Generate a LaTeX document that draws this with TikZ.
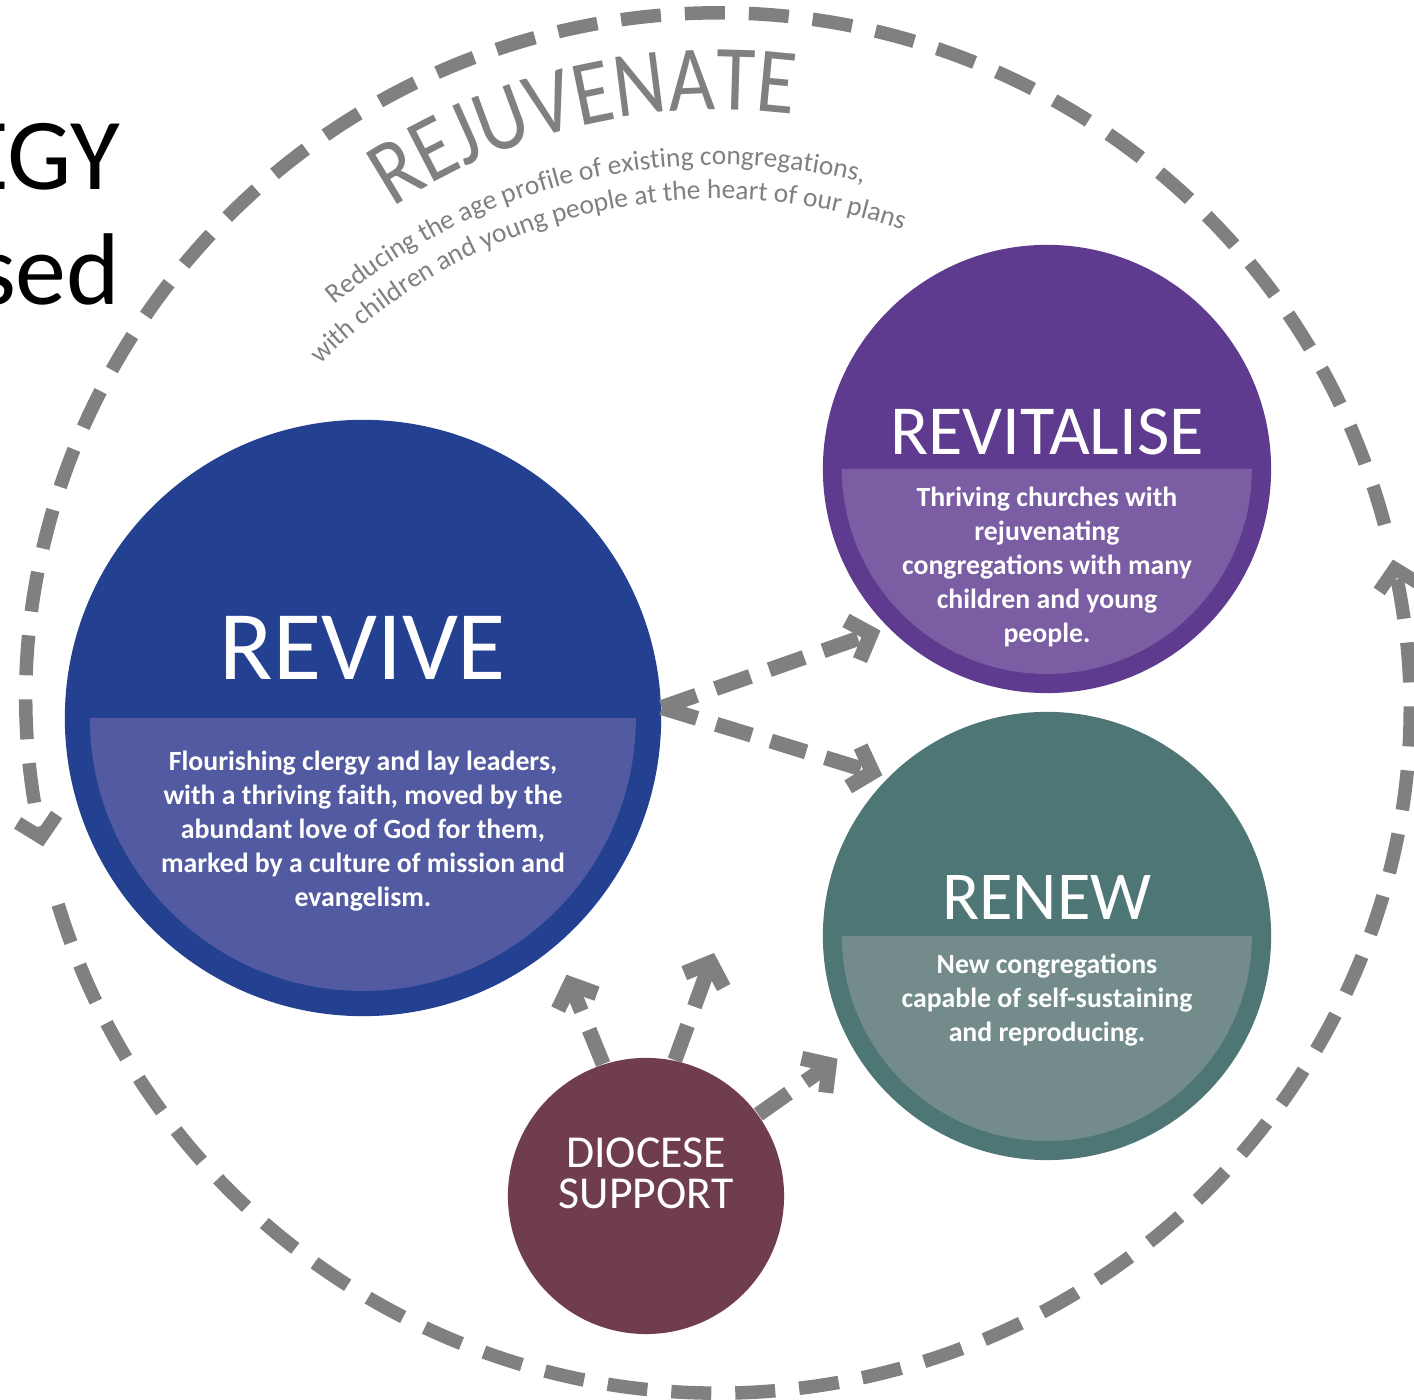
\documentclass[tikz,border=0pt]{standalone}
\usepackage{fontspec}
\setmainfont{Carlito}
\newfontfamily\narrowfont[FakeStretch=0.86]{Carlito}
\usepackage{tikz}
\usetikzlibrary{arrows.meta}
\usetikzlibrary{decorations.text}

\definecolor{dashgray}{RGB}{128,128,128}
\definecolor{revivedark}{RGB}{35,64,145}
\definecolor{revivelight}{RGB}{82,90,162}
\definecolor{vitaldark}{RGB}{94,59,143}
\definecolor{vitallight}{RGB}{122,93,163}
\definecolor{renewdark}{RGB}{78,118,116}
\definecolor{renewlight}{RGB}{115,140,139}
\definecolor{diocesered}{RGB}{112,60,80}

\tikzset{
  disc/.style={circle, inner sep=0pt, minimum size=#1},
  heading/.style={text=white, inner sep=0pt, anchor=base, font=\fontsize{#1}{#1}\selectfont},
  blurb/.style={text=white, inner sep=0pt, anchor=north, align=center, font=\bfseries\fontsize{7.9}{9.7}\selectfont},
  ring/.style={draw=dashgray, line width=0.135cm, dash pattern=on 0.4cm off 0.24cm,
    -{Straight Barb[length=0.19cm,width=0.4cm]}},
  flow/.style={draw=dashgray, line width=0.15cm, dash pattern=on 0.37cm off 0.2cm,
    -{Straight Barb[length=0.19cm,width=0.42cm]}},
  arctext/.style={decorate, decoration={text along path, text align=center, text color=dashgray, text={#1}}},
}

\begin{document}
\begin{tikzpicture}[x=0.01cm, y=0.01cm]
\useasboundingbox (0,0) rectangle (1414,1400);
\clip (0,0) rectangle (1414,1400);

% what is left of the slide title
\node[anchor=base east, inner sep=0pt, font=\fontsize{29}{29}\selectfont] (titleA) at (121,1210) {EGY};
\node[anchor=base east, inner sep=0pt, font=\fontsize{29}{29}\selectfont] (titleB) at (121,1095) {sed};

\coordinate (hub) at (718,697);
\coordinate (hubtext) at (718,640);

% outer cycle
\draw[ring] ([shift={(15:690)}]hub) arc[start angle=15, end angle=192, radius=690];
\draw[ring] ([shift={(197:690)}]hub) arc[start angle=197, end angle=372, radius=690];

% rejuvenate
\path[arctext={|\narrowfont\fontsize{26.5}{26.5}\selectfont|REJUVENATE}]
  ([shift={(130:593)}]hub) arc[start angle=130, end angle=76, radius=593];
\path[arctext={|\fontsize{7.8}{7.8}\selectfont|Reducing the age profile of existing congregations,}]
  ([shift={(142:595)}]hubtext) arc[start angle=142, end angle=64, radius=595];
\path[arctext={|\fontsize{7.8}{7.8}\selectfont|with children and young people at the heart of our plans}]
  ([shift={(147:561)}]hubtext) arc[start angle=147, end angle=59, radius=561];

% revive
\node[disc=5.96cm, fill=revivedark] (revive) at (363,682) {};
\fill[revivelight] ([xshift=-2.73cm]revive.center) arc[start angle=180, end angle=360, radius=273] -- cycle;
\node[heading=28] (revivet) at (363,720) {REVIVE};
\node[blurb] (reviveb) at (363,650) {Flourishing clergy and lay leaders,\\with a thriving faith, moved by the\\abundant love of God for them,\\marked by a culture of mission and\\evangelism.};

% revitalise
\node[disc=4.48cm, fill=vitaldark] (revitalise) at (1047,931) {};
\fill[vitallight] ([xshift=-2.05cm]revitalise.center) arc[start angle=180, end angle=360, radius=205] -- cycle;
\node[heading=20] (revitaliset) at (1047,945) {REVITALISE};
\node[blurb] (revitaliseb) at (1047,914) {Thriving churches with\\rejuvenating\\congregations with many\\children and young\\people.};

% renew
\node[disc=4.48cm, fill=renewdark] (renew) at (1047,464) {};
\fill[renewlight] ([xshift=-2.05cm]renew.center) arc[start angle=180, end angle=360, radius=205] -- cycle;
\node[heading=19.5] (renewt) at (1047,480) {RENEW};
\node[blurb] (renewb) at (1047,447) {New congregations\\capable of self-sustaining\\and reproducing.};

% diocese support
\node[disc=2.76cm, fill=diocesered] (diocese) at (646,204) {};
\node[heading=13, anchor=center, align=center, font=\fontsize{13}{11.7}\selectfont] (dioceset) at (646,227) {DIOCESE\\SUPPORT};
\coordinate (uptip) at (714,447);

\draw[flow, shorten >=0.08cm] (revive.2) -- (revitalise.225);
\draw[flow, shorten >=0.06cm] (revive.2) -- (renew.135);
\draw[flow, shorten >=0.3cm] (diocese.108) -- (revive.-50);
\draw[flow] (diocese.78) -- (uptip);
\draw[flow, shorten >=0.18cm] (diocese.36) -- (renew.210);
\end{tikzpicture}
\end{document}
